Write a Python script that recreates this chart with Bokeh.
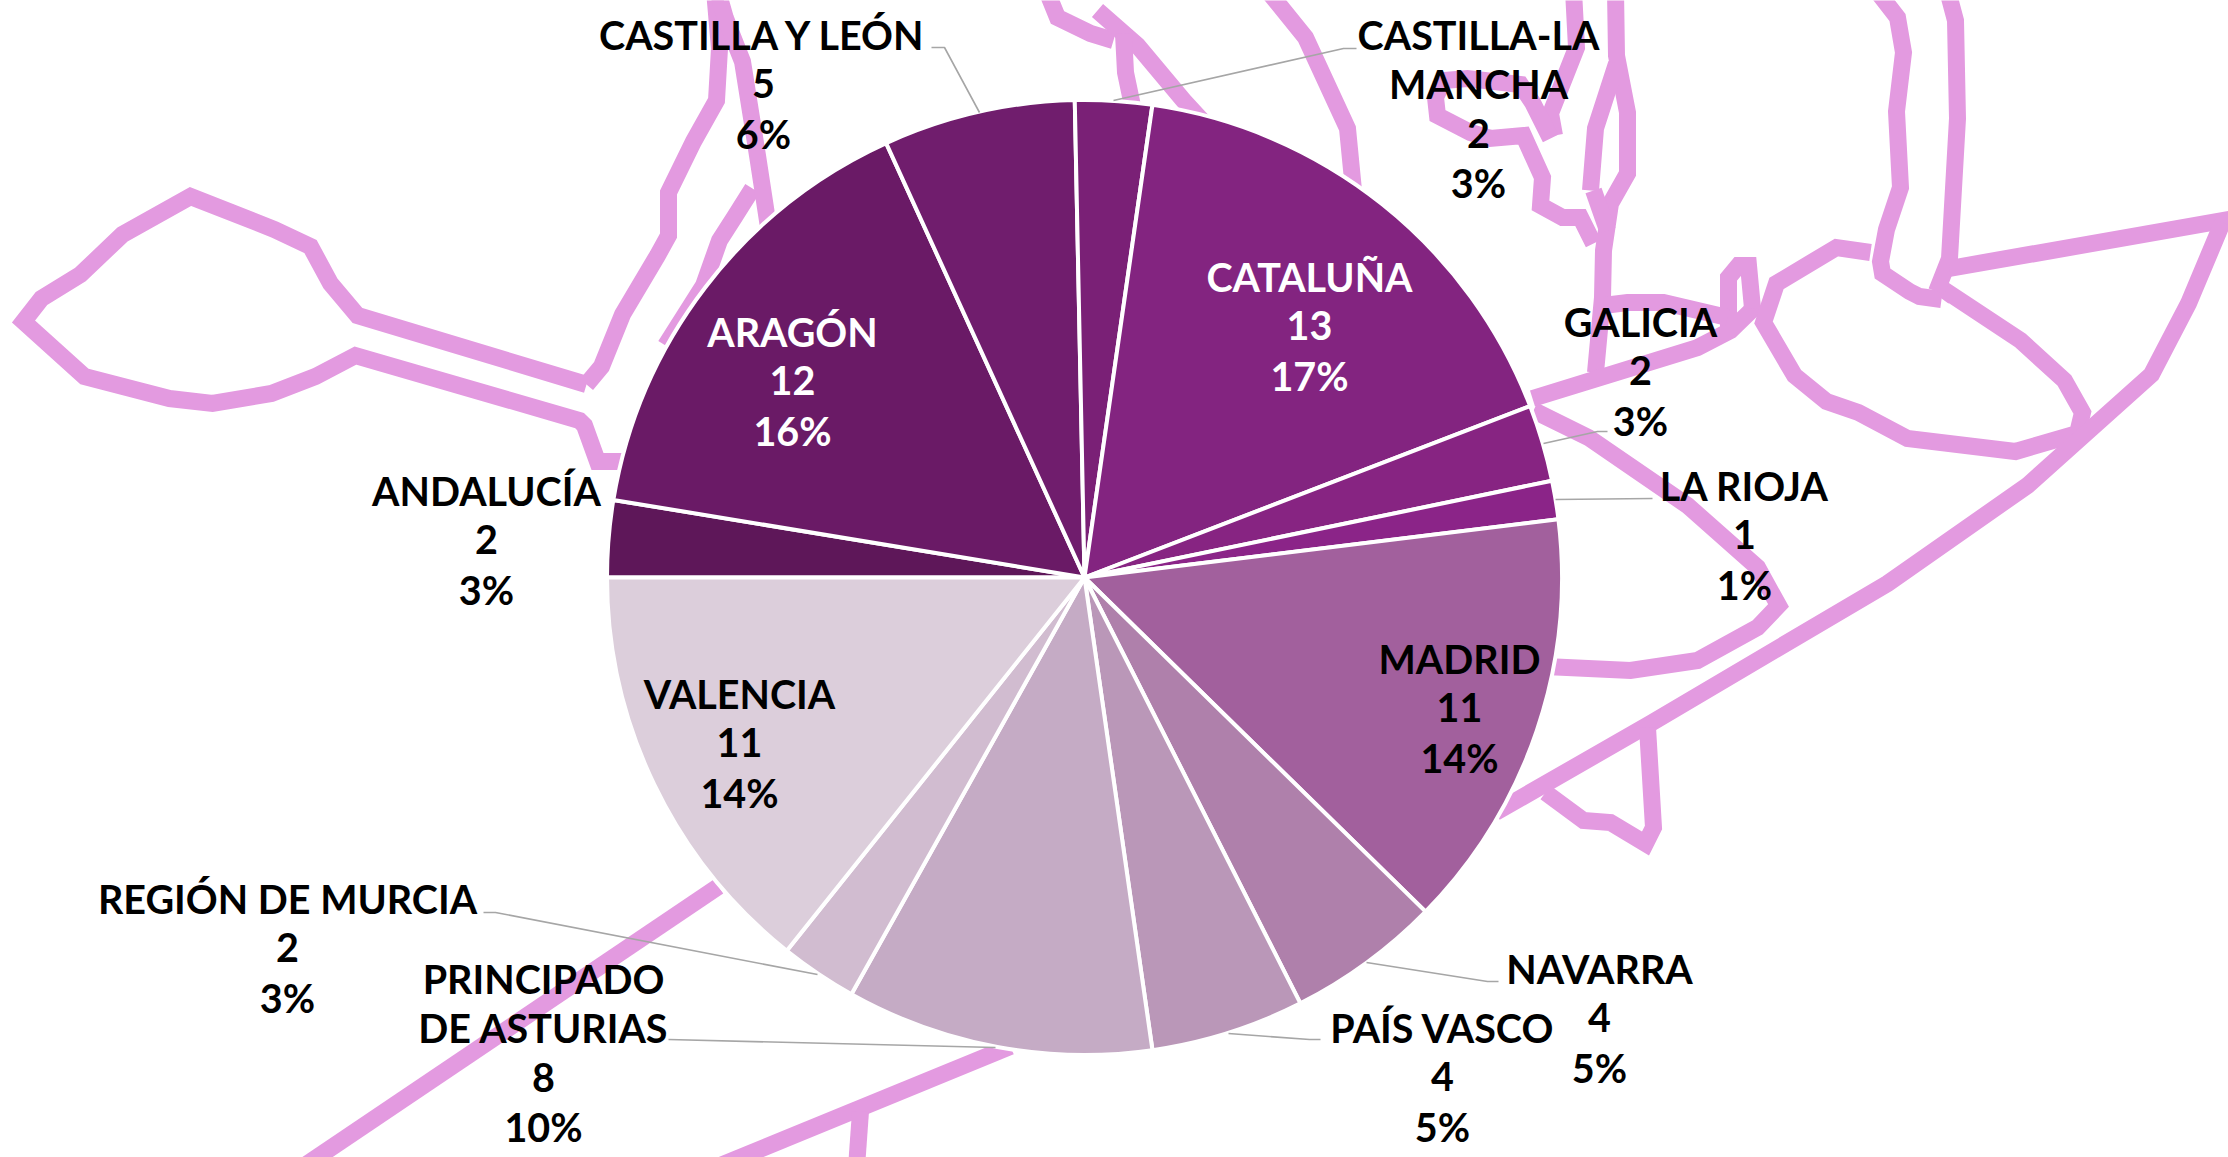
import math
from bokeh.plotting import figure
from bokeh.models import Range1d, ColumnDataSource
from bokeh.core.properties import value
from bokeh.embed import file_html
from bokeh.resources import INLINE

# ---------- chart data ----------
categories = [["ANDALUCÍA"], ["ARAGÓN"], ["CASTILLA Y LEÓN"], ["CASTILLA-LA", "MANCHA"], ["CATALUÑA"],
              ["GALICIA"], ["LA RIOJA"], ["MADRID"], ["NAVARRA"], ["PAÍS VASCO"],
              ["PRINCIPADO", "DE ASTURIAS"], ["REGIÓN DE MURCIA"], ["VALENCIA"]]
counts = [2, 12, 5, 2, 13, 2, 1, 11, 4, 4, 8, 2, 11]
percents = ["3%", "16%", "6%", "3%", "17%", "3%", "1%", "14%", "5%", "5%", "10%", "3%", "14%"]
colors = ["#5E1759", "#6A1A66", "#701D6D", "#7A2076", "#832480", "#872482", "#8B2488",
          "#A2609D", "#AF80AB", "#BA97B8", "#C5ABC5", "#D1BCD0", "#DCCEDB"]
label_colors = ["black", "white", "black", "black", "white", "black", "black",
                "black", "black", "black", "black", "black", "black"]

# ---------- layout (page pixels, y downward) ----------
W, H = 2228, 1157
CX, CY, R = 1084, 577, 477.5
label_x = [486, 792, 763, 1478, 1309, 1640, 1744, 1459, 1599, 1442, 543, 287, 739]
label_y = [490, 331, 34, 34, 276, 321, 485, 658, 968, 1027, 978, 898, 693]
LINE_STEP = 49.3
FONT = "Lato"
FONT_SIZE = "39.5px"

leaders = [
    [(931, 47), (944, 47), (979, 112)],
    [(1356, 48), (1343, 48), (1113, 100)],
    [(1607, 431), (1597, 431), (1543, 443)],
    [(1652, 498), (1555, 499)],
    [(1498, 981), (1487, 981), (1366, 962)],
    [(1320, 1039), (1309, 1039), (1228, 1033)],
    [(668, 1039), (995, 1047)],
    [(483, 912), (495, 912), (817, 974)],
]

# Pink outline drawn behind the pie
outline_west = [(586, 384), (357, 315), (330, 283), (310, 246), (274, 229), (190, 196), (122, 234), (80, 274),
                (41, 298), (23, 321), (84, 376), (169, 398), (212, 403), (271, 393), (315, 376), (355, 355),
                (579, 420), (584, 425), (597, 461), (632, 461)]
outline_nw1 = [(586, 384), (601, 366), (622, 314), (657, 255), (668, 235), (668, 192), (693, 141), (716, 100), (719, 48), (714, -10)]
outline_nw2 = [(665, 345), (703, 285), (719, 240), (735, 215), (752, 188)]
outline_nw3 = [(770, 240), (757, 155), (742, 61), (725, 18), (717, -10)]
outline_n1 = [(1046, -10), (1057, 17), (1090, 33), (1113, 40)]
outline_n2 = [(1097, 10), (1137, 45), (1183, 100), (1206, 125)]
outline_n3 = [(1123, 33), (1125, 72), (1134, 115)]
outline_n4 = [(1267, -10), (1305, 37), (1347, 128), (1354, 200)]
outline_j = [(1573, -10), (1576, 47), (1550, 113), (1554, 135)]
outline_k = [(1550, 138), (1532, 102), (1520, 84), (1467, 78), (1443, 80), (1435, 97), (1437, 115), (1470, 132),
             (1490, 138), (1523, 135), (1542, 177), (1540, 205), (1562, 217), (1580, 217), (1593, 243)]
outline_l = [(1615, -10), (1616, 55), (1627, 112), (1627, 173), (1610, 203), (1603, 250), (1602, 297), (1595, 372)]
outline_l2 = [(1616, 63), (1595, 128), (1590, 190)]
outline_l3 = [(1593, 190), (1607, 230)]
outline_m = [(1532, 398), (1697, 347), (1730, 330), (1758, 303)]
outline_m2 = [(1728, 330), (1728, 277), (1738, 265), (1748, 265), (1752, 308)]
outline_g = [(1603, 305), (1627, 302), (1663, 302), (1727, 317)]
outline_blob = [(1870, 252), (1836, 247), (1776, 283), (1763, 322), (1794, 375), (1826, 401), (1858, 412), (1907, 438),
                (2015, 451), (2077, 433), (2082, 412), (2064, 380), (2020, 340), (1946, 291), (1941, 298)]
outline_north = [(1876, -10), (1897, 17), (1903, 52), (1896, 111), (1900, 187), (1886, 229), (1880, 261), (1882, 273),
                 (1909, 291), (1919, 296), (1941, 299)]
outline_east = [(1947, -10), (1955, 20), (1957, 118), (1949, 258), (1936, 291)]
outline_ne = [(1949, 268), (2240, 217)]
outline_coast = [(2222, 222), (2188, 303), (2151, 374), (2027, 485), (1887, 583), (1650, 723), (1495, 812)]
outline_tri = [(1647, 727), (1653, 827), (1645, 843), (1610, 822), (1583, 820), (1545, 792)]
outline_p = [(1533, 410), (1588, 437), (1687, 505), (1757, 567), (1778, 605), (1757, 627), (1697, 660), (1630, 670), (1545, 666)]
outline_sw = [(718, 886), (300, 1168)]
outline_s = [(1010, 1046), (715, 1167)]
outline_s2 = [(860, 1111), (856, 1167)]
outlines = [outline_west, outline_nw1, outline_nw2, outline_nw3, outline_n1, outline_n2, outline_n3, outline_n4,
            outline_j, outline_k, outline_l, outline_l2, outline_l3, outline_m, outline_m2, outline_g, outline_blob,
            outline_north, outline_east, outline_ne, outline_coast, outline_tri, outline_p, outline_sw, outline_s, outline_s2]


def flip(points):
    return [p[0] for p in points], [H - p[1] for p in points]


p = figure(width=W, height=H, x_range=Range1d(0, W), y_range=Range1d(0, H),
           output_backend="svg", toolbar_location=None, min_border=0)
p.axis.visible = False
p.grid.visible = False
p.outline_line_color = None
p.background_fill_color = "white"

xs, ys = zip(*[flip(o) for o in outlines])
p.multi_line(list(xs), list(ys), line_color="#E39AE0", line_width=17, line_join="miter", line_cap="butt")

# Pie: clockwise, first slice starts pointing left
total = sum(counts)
starts, ends, acc = [], [], 0
for c in counts:
    starts.append(math.pi - 2 * math.pi * acc / total)
    acc += c
    ends.append(math.pi - 2 * math.pi * acc / total)
pie = ColumnDataSource(dict(start=starts, end=ends, color=colors))
p.wedge(x=CX, y=H - CY, radius=R, start_angle="start", end_angle="end", direction="clock",
        fill_color="color", line_color="white", line_width=4, source=pie)

lx, ly = zip(*[flip(o) for o in leaders])
p.multi_line(list(lx), list(ly), line_color="#A6A6A6", line_width=1.6)

tx, ty, tt, tc = [], [], [], []
for i, name_lines in enumerate(categories):
    rows = name_lines + [str(counts[i]), percents[i]]
    for j, row in enumerate(rows):
        tx.append(label_x[i])
        ty.append(H - (label_y[i] + j * LINE_STEP))
        tt.append(row)
        tc.append(label_colors[i])
labels = ColumnDataSource(dict(x=tx, y=ty, t=tt, c=tc))
p.text(x="x", y="y", text="t", text_color="c", source=labels, text_align="center", text_baseline="middle",
       text_font=value(FONT), text_font_size=value(FONT_SIZE), text_font_style="bold")

open("out.html", "w").write(file_html(p, INLINE))
